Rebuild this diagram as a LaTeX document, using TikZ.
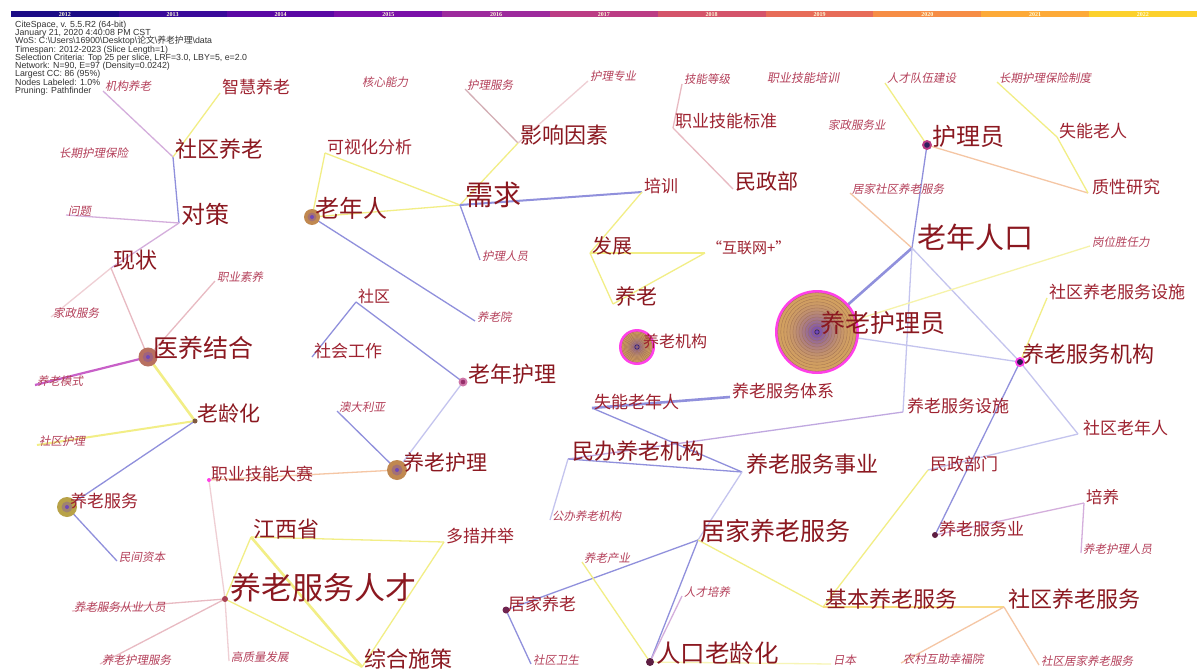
\documentclass[tikz,border=0pt]{standalone}
\usepackage{fontspec}
\setmainfont{Liberation Sans}
\newfontfamily\cjk{Noto Sans CJK SC}
\newfontfamily\cjkslant{Noto Sans CJK SC}[FakeSlant=0.18]
\newfontfamily\yrfont{Liberation Serif}
\usepackage{xcolor}
\usepackage{tikz}
\usetikzlibrary{positioning}

% time slice colours
\definecolor{yc0}{HTML}{1C0C86}
\definecolor{yc1}{HTML}{3A0A9A}
\definecolor{yc2}{HTML}{5A08A4}
\definecolor{yc3}{HTML}{7A10A8}
\definecolor{yc4}{HTML}{9C2A9C}
\definecolor{yc5}{HTML}{BB3C84}
\definecolor{yc6}{HTML}{D4546A}
\definecolor{yc7}{HTML}{E76C58}
\definecolor{yc8}{HTML}{F68D45}
\definecolor{yc9}{HTML}{FDAA38}
\definecolor{yc10}{HTML}{FCD12C}
% labels
\definecolor{kwdark}{HTML}{8B1820}
\definecolor{kwmid}{HTML}{9E2230}
\definecolor{kwlight}{HTML}{B4405A}
% links
\definecolor{lnblue}{HTML}{9090DC}
\definecolor{lnlblue}{HTML}{C4C4EE}
\definecolor{lnyellow}{HTML}{F2EE86}
\definecolor{lnpink}{HTML}{E8BAC2}
\definecolor{lnorange}{HTML}{F5C6A4}
\definecolor{lnmag}{HTML}{C860C8}
\definecolor{lnlilac}{HTML}{D4AEDC}
\definecolor{lnviolet}{HTML}{C0A8E0}
\definecolor{lngold}{HTML}{F8DC80}
% rings
\definecolor{ringtan}{HTML}{D2A060}
\definecolor{ringpurple}{HTML}{7048B8}
\definecolor{ringpink}{HTML}{FF40E8}
\definecolor{ringline}{HTML}{A07050}
\definecolor{ringrose}{HTML}{B87060}
\definecolor{ringbrown}{HTML}{C08850}
\definecolor{ringolive}{HTML}{B8A248}
\definecolor{navy}{HTML}{302060}

\tikzset{
  kw/.style={anchor=base west, inner sep=0pt, outer sep=0pt, xshift=2pt},
  kwS/.style={kw, text=kwlight, font=\cjkslant\fontsize{11.5}{12}\selectfont},
  kwM/.style={kw, text=kwmid, font=\cjk\fontsize{17}{18}\selectfont},
  kwL/.style={kw, text=kwdark, font=\cjk\fontsize{22}{24}\selectfont},
  kwXL/.style={kw, text=kwdark, font=\cjk\fontsize{25}{27}\selectfont},
  kwXXL/.style={kw, text=kwdark, font=\cjk\fontsize{29}{31}\selectfont},
  infotxt/.style={anchor=base west, inner sep=0pt, text=black!80, font=\fontsize{8.8}{9}\selectfont},
  yeartxt/.style={inner sep=0pt, text=white!85!yellow, font=\yrfont\bfseries\fontsize{6}{6}\selectfont},
  link/.style={line width=1.3pt},
  thick link/.style={line width=2.6pt},
}

\begin{document}
\begin{tikzpicture}[x=1pt, y=-1pt]
\fill[white] (0,0) rectangle (1197,669);
\useasboundingbox (0,0) rectangle (1197,669);

% timeline bar
\foreach \yr [count=\i from 0] in {2012,...,2022} {
  \fill[yc\i] ({11+107.8*\i},11) rectangle ({11+107.8*(\i+1)},17.5);
  \node[yeartxt] (yr\yr) at ({11+107.8*(\i+0.5)},14.3) {\yr};
}

% run summary
\node[infotxt] (info1) at (15,27.4) {CiteSpace, v. 5.5.R2 (64-bit)};
\node[infotxt] (info2) at (15,35.6) {January 21, 2020 4:40:08 PM CST};
\node[infotxt] (info3) at (15,43.9) {WoS: C:\textbackslash Users\textbackslash 16900\textbackslash Desktop\textbackslash{\cjk 论文}\textbackslash{\cjk 养老护理}\textbackslash data};
\node[infotxt] (info4) at (15,52.1) {Timespan: 2012-2023 (Slice Length=1)};
\node[infotxt] (info5) at (15,60.4) {Selection Criteria: Top 25 per slice, LRF=3.0, LBY=5, e=2.0};
\node[infotxt] (info6) at (15,68.6) {Network: N=90, E=97 (Density=0.0242)};
\node[infotxt] (info7) at (15,76.9) {Largest CC: 86 (95\%)};
\node[infotxt] (info8) at (15,85.1) {Nodes Labeled: 1.0\%};
\node[infotxt] (info9) at (15,93.4) {Pruning: Pathfinder};

% keyword positions
\coordinate (jgyl) at (103,91);
\coordinate (zhyl) at (220,93);
\coordinate (sqyl) at (173,157);
\coordinate (duice) at (179,223);
\coordinate (cqhlbx) at (57,157);
\coordinate (wenti) at (66,215);
\coordinate (xianzhuang) at (111,268);
\coordinate (jzfw) at (51,317);
\coordinate (zysy) at (215,281);
\coordinate (yyjh) at (148,357);
\coordinate (ylms) at (35,385);
\coordinate (llh) at (195,421);
\coordinate (sqhl) at (37,445);
\coordinate (ylfw) at (67,507);
\coordinate (mjzb) at (117,561);
\coordinate (lnr) at (312,217);
\coordinate (kshfx) at (325,153);
\coordinate (hxnl) at (360,87);
\coordinate (hlfw) at (465,89);
\coordinate (hlzy) at (588,81);
\coordinate (yxys) at (518,143);
\coordinate (xuqiu) at (460,205);
\coordinate (hlry) at (480,260);
\coordinate (peixun) at (642,192);
\coordinate (fazhan) at (590,253);
\coordinate (hlw) at (705,253);
\coordinate (yanglao) at (613,304);
\coordinate (yly) at (475,321);
\coordinate (yljg) at (637,347);
\coordinate (ylhly) at (817,332);
\coordinate (lnrk) at (912,248);
\coordinate (hly) at (927,145);
\coordinate (rcdwjs) at (885,83);
\coordinate (cqhlbxzd) at (997,82);
\coordinate (snlr) at (1057,137);
\coordinate (zxyj) at (1088,193);
\coordinate (jzfwy) at (826,129);
\coordinate (jjsqylfw) at (850,193);
\coordinate (gwsrl) at (1090,246);
\coordinate (jndj) at (682,84);
\coordinate (zyjnbz) at (673,128);
\coordinate (mzb) at (733,189);
\coordinate (zyjnpx) at (765,82);
\coordinate (sqylfwss) at (1047,298);
\coordinate (ylfwjg) at (1020,362);
\coordinate (sqlnr) at (1078,434);
\coordinate (mzbm) at (928,470);
\coordinate (ylfwss) at (903,412);
\coordinate (shequ) at (356,302);
\coordinate (shgz) at (312,357);
\coordinate (lnhl) at (463,382);
\coordinate (adly) at (337,411);
\coordinate (ylhl) at (397,470);
\coordinate (zyjnds) at (209,480);
\coordinate (snlnr) at (592,408);
\coordinate (ylfwtx) at (730,397);
\coordinate (mbyljg) at (568,459);
\coordinate (gbyljg) at (550,520);
\coordinate (ylfwsy) at (742,472);
\coordinate (jxs) at (251,537);
\coordinate (dcbj) at (444,542);
\coordinate (ylfwrc) at (225,599);
\coordinate (zhsc) at (362,667);
\coordinate (ylfwcyry) at (72,611);
\coordinate (ylhlfw) at (100,664);
\coordinate (gzlfz) at (229,661);
\coordinate (jjyl) at (506,610);
\coordinate (sqws) at (531,664);
\coordinate (jjylfw) at (698,540);
\coordinate (ylcy) at (582,562);
\coordinate (rcpy) at (682,596);
\coordinate (rklh) at (650,662);
\coordinate (riben) at (831,664);
\coordinate (jbylfw) at (823,607);
\coordinate (sqylfw) at (1004,607);
\coordinate (ncfzxfy) at (901,663);
\coordinate (sqjjylfw) at (1039,665);
\coordinate (ylfwy) at (935,535);
\coordinate (peiyang) at (1084,503);
\coordinate (ylhlry) at (1081,553);

% links
\draw[link, lnlilac] (jgyl) -- (sqyl);
\draw[link, lnyellow] (zhyl) -- (sqyl);
\draw[link, lnblue] (sqyl) -- (duice);
\draw[link, lnlilac] (wenti) -- (duice);
\draw[link, lnlilac] (duice) -- (xianzhuang);
\draw[link, lnpink!70] (xianzhuang) -- (jzfw);
\draw[link, lnpink] (xianzhuang) -- (yyjh);
\draw[link, lnpink] (zysy) -- (yyjh);
\draw[line width=2.2pt, lnmag] (ylms) -- (yyjh);
\draw[thick link, lnyellow] (yyjh) -- (llh);
\draw[line width=2pt, lnyellow] (llh) -- (sqhl);
\draw[link, lnblue] (llh) -- (ylfw);
\draw[link, lnblue] (ylfw) -- (mjzb);
\draw[link, lnyellow] (lnr) -- (kshfx);
\draw[link, lnyellow] (kshfx) -- (xuqiu);
\draw[link, lnyellow] (lnr) -- (xuqiu);
\draw[link, lnblue] (lnr) -- (yly);
\draw[link, lnpink!80!gray] (hlfw) -- (yxys);
\draw[link, lnpink!70] (hlzy) -- (yxys);
\draw[link, lnyellow] (yxys) -- (xuqiu);
\draw[line width=2pt, lnblue] (xuqiu) -- (peixun);
\draw[link, lnblue] (xuqiu) -- (hlry);
\draw[link, lnyellow] (peixun) -- (fazhan);
\draw[link, lnyellow] (fazhan) -- (hlw);
\draw[link, lnyellow] (fazhan) -- (yanglao);
\draw[link, lnyellow] (hlw) -- (yanglao);
\draw[link, lnpink] (jndj) -- (zyjnbz);
\draw[link, lnpink] (zyjnbz) -- (mzb);
\draw[link, lnyellow] (rcdwjs) -- (hly);
\draw[link, lnorange] (hly) -- (zxyj);
\draw[link, lnyellow] (cqhlbxzd) -- (snlr);
\draw[link, lnyellow] (snlr) -- (zxyj);
\draw[link, lnblue] (hly) -- (lnrk);
\draw[link, lnorange] (jjsqylfw) -- (lnrk);
\draw[thick link, lnblue] (lnrk) -- (ylhly);
\draw[link, lnlblue] (lnrk) -- (ylfwjg);
\draw[link, lnlblue] (lnrk) -- (ylfwss);
\draw[link, lnlblue] (ylhly) -- (ylfwjg);
\draw[link, lnyellow!70] (ylhly) -- (gwsrl);
\draw[link, lnyellow] (sqylfwss) -- (ylfwjg);
\draw[link, lnlblue] (ylfwjg) -- (sqlnr);
\draw[link, lnblue] (ylfwjg) -- (ylfwy);
\draw[link, lnlblue] (sqlnr) -- (mzbm);
\draw[link, lnyellow] (mzbm) -- (jbylfw);
\draw[link, lnviolet] (ylfwss) -- (mbyljg);
\draw[link, lnblue] (shequ) -- (shgz);
\draw[link, lnblue] (shequ) -- (lnhl);
\draw[link, lnlblue] (lnhl) -- (ylhl);
\draw[link, lnblue] (adly) -- (ylhl);
\draw[link, lnorange] (zyjnds) -- (ylhl);
\draw[link, lnpink!70] (zyjnds) -- (ylfwrc);
\draw[link, lnpink!70] (ylfwrc) -- (gzlfz);
\draw[link, lnpink] (ylfwrc) -- (ylfwcyry);
\draw[link, lnpink] (ylfwrc) -- (ylhlfw);
\draw[link, lnyellow] (ylfwrc) -- (jxs);
\draw[link, lnyellow] (ylfwrc) -- (zhsc);
\draw[link, lnyellow] (jxs) -- (dcbj);
\draw[link, lnyellow] (dcbj) -- (zhsc);
\draw[thick link, lnyellow] (jxs) -- (zhsc);
\draw[thick link, lnblue] (snlnr) -- (ylfwtx);
\draw[link, lnblue] (snlnr) -- (ylfwsy);
\draw[link, lnblue] (mbyljg) -- (ylfwsy);
\draw[link, lnlblue] (mbyljg) -- (gbyljg);
\draw[link, lnlblue] (ylfwsy) -- (jjylfw);
\draw[link, lnblue] (jjylfw) -- (jjyl);
\draw[link, lnblue] (jjyl) -- (sqws);
\draw[link, lnblue] (jjylfw) -- (rklh);
\draw[link, lnyellow] (jjylfw) -- (jbylfw);
\draw[link, lnyellow] (ylcy) -- (rklh);
\draw[link, lnlilac] (rcpy) -- (rklh);
\draw[link, lnyellow!60] (rklh) -- (riben);
\draw[thick link, lngold] (jbylfw) -- (sqylfw);
\draw[link, lnorange] (sqylfw) -- (ncfzxfy);
\draw[link, lnorange] (sqylfw) -- (sqjjylfw);
\draw[link, lnlilac] (ylfwy) -- (peiyang);
\draw[link, lnlilac] (peiyang) -- (ylhlry);

% tree rings of the most cited keywords
\foreach \cc/\R in {ylhly/42, yljg/18} {
  \fill[ringpink] (\cc) circle[radius=\R pt];
  \foreach \k in {0,...,12} {
    \pgfmathtruncatemacro\mixp{\k*\k*100/144}
    \pgfmathsetmacro\rk{(\R-2.8)*(1-\k/13)}
    \filldraw[fill=ringpurple!\mixp!ringtan, draw=ringline, line width=0.3pt] (\cc) circle[radius=\rk pt];
  }
  \draw[navy, line width=0.6pt] (\cc) circle[radius=2.2pt];
}
\foreach \cc/\R/\col in {yyjh/9.5/ringrose, ylhl/10/ringbrown, lnr/8/ringbrown, ylfw/10/ringolive} {
  \fill[\col] (\cc) circle[radius=\R pt];
  \fill[\col!65!ringpurple] (\cc) circle[radius={0.55*\R pt}];
  \fill[ringpurple] (\cc) circle[radius=2pt];
}
\fill[yc5] (hly) circle[radius=5pt];
\fill[navy] (hly) circle[radius=2.8pt];
\fill[ringpink] (ylfwjg) circle[radius=5pt];
\fill[navy!80!black] (ylfwjg) circle[radius=3pt];
\fill[yc5!70!white] (lnhl) circle[radius=4.5pt];
\fill[yc5!80!black] (lnhl) circle[radius=2.3pt];
\fill[ringpink] (zyjnds) circle[radius=2pt];
\fill[ringline!80!black] (llh) circle[radius=2.5pt];
\fill[yc6!80!black] (ylfwrc) circle[radius=3pt];
\fill[yc5!60!black] (jjyl) circle[radius=3.5pt];
\fill[yc5!50!black] (rklh) circle[radius=4pt];
\fill[yc5!50!black] (ylfwy) circle[radius=3pt];

% keyword labels
\node[kwS] (t-jgyl) at (jgyl) {机构养老};
\node[kwM] (t-zhyl) at (zhyl) {智慧养老};
\node[kwL] (t-sqyl) at (sqyl) {社区养老};
\node[kwXL, font=\cjk\fontsize{24}{26}\selectfont] (t-duice) at (duice) {对策};
\node[kwS] (t-cqhlbx) at (cqhlbx) {长期护理保险};
\node[kwS] (t-wenti) at (wenti) {问题};
\node[kwL] (t-xianzhuang) at (xianzhuang) {现状};
\node[kwS] (t-jzfw) at (jzfw) {家政服务};
\node[kwS] (t-zysy) at (zysy) {职业素养};
\node[kwXL, xshift=3pt] (t-yyjh) at (yyjh) {医养结合};
\node[kwS] (t-ylms) at (ylms) {养老模式};
\node[kwL, font=\cjk\fontsize{21}{23}\selectfont] (t-llh) at (llh) {老龄化};
\node[kwS] (t-sqhl) at (sqhl) {社区护理};
\node[kwM, xshift=1pt] (t-ylfw) at (ylfw) {养老服务};
\node[kwS] (t-mjzb) at (mjzb) {民间资本};
\node[kwXL, font=\cjk\fontsize{24}{26}\selectfont, xshift=1pt] (t-lnr) at (lnr) {老年人};
\node[kwM] (t-kshfx) at (kshfx) {可视化分析};
\node[kwS] (t-hxnl) at (hxnl) {核心能力};
\node[kwS] (t-hlfw) at (hlfw) {护理服务};
\node[kwS] (t-hlzy) at (hlzy) {护理专业};
\node[kwL] (t-yxys) at (yxys) {影响因素};
\node[kwXXL, font=\cjk\fontsize{28}{30}\selectfont, xshift=3pt] (t-xuqiu) at (xuqiu) {需求};
\node[kwS] (t-hlry) at (hlry) {护理人员};
\node[kwM] (t-peixun) at (peixun) {培训};
\node[kwL, font=\cjk\fontsize{20}{22}\selectfont] (t-fazhan) at (fazhan) {发展};
\node[kwM, font=\cjk\fontsize{15}{17}\selectfont] (t-hlw) at (hlw) {“互联网+”};
\node[kwL, font=\cjk\fontsize{21}{23}\selectfont] (t-yanglao) at (yanglao) {养老};
\node[kwS] (t-yly) at (yly) {养老院};
\node[kwM, font=\cjk\fontsize{16}{18}\selectfont, xshift=4pt] (t-yljg) at (yljg) {养老机构};
\node[kwXL, xshift=1pt] (t-ylhly) at (ylhly) {养老护理员};
\node[kwXXL, xshift=3pt] (t-lnrk) at (lnrk) {老年人口};
\node[kwXL, font=\cjk\fontsize{24}{26}\selectfont, xshift=3pt] (t-hly) at (hly) {护理员};
\node[kwS] (t-rcdwjs) at (rcdwjs) {人才队伍建设};
\node[kwS] (t-cqhlbxzd) at (cqhlbxzd) {长期护理保险制度};
\node[kwM] (t-snlr) at (snlr) {失能老人};
\node[kwM, xshift=2pt] (t-zxyj) at (zxyj) {质性研究};
\node[kwS] (t-jzfwy) at (jzfwy) {家政服务业};
\node[kwS] (t-jjsqylfw) at (jjsqylfw) {居家社区养老服务};
\node[kwS] (t-gwsrl) at (gwsrl) {岗位胜任力};
\node[kwS] (t-jndj) at (jndj) {技能等级};
\node[kwM] (t-zyjnbz) at (zyjnbz) {职业技能标准};
\node[kwL, font=\cjk\fontsize{21}{23}\selectfont] (t-mzb) at (mzb) {民政部};
\node[kwS, font=\cjkslant\fontsize{12}{13}\selectfont] (t-zyjnpx) at (zyjnpx) {职业技能培训};
\node[kwM] (t-sqylfwss) at (sqylfwss) {社区养老服务设施};
\node[kwL] (t-ylfwjg) at (ylfwjg) {养老服务机构};
\node[kwM, xshift=3pt] (t-sqlnr) at (sqlnr) {社区老年人};
\node[kwM] (t-mzbm) at (mzbm) {民政部门};
\node[kwM, xshift=2pt] (t-ylfwss) at (ylfwss) {养老服务设施};
\node[kwM, font=\cjk\fontsize{16}{18}\selectfont] (t-shequ) at (shequ) {社区};
\node[kwM] (t-shgz) at (shgz) {社会工作};
\node[kwL, xshift=3pt] (t-lnhl) at (lnhl) {老年护理};
\node[kwS] (t-adly) at (adly) {澳大利亚};
\node[kwL, font=\cjk\fontsize{21}{23}\selectfont, xshift=4pt] (t-ylhl) at (ylhl) {养老护理};
\node[kwM] (t-zyjnds) at (zyjnds) {职业技能大赛};
\node[kwM] (t-snlnr) at (snlnr) {失能老年人};
\node[kwM] (t-ylfwtx) at (ylfwtx) {养老服务体系};
\node[kwL, xshift=2pt] (t-mbyljg) at (mbyljg) {民办养老机构};
\node[kwS] (t-gbyljg) at (gbyljg) {公办养老机构};
\node[kwL, xshift=2pt] (t-ylfwsy) at (ylfwsy) {养老服务事业};
\node[kwL] (t-jxs) at (jxs) {江西省};
\node[kwM] (t-dcbj) at (dcbj) {多措并举};
\node[kwXXL, font=\cjk\fontsize{31}{33}\selectfont, xshift=3pt] (t-ylfwrc) at (ylfwrc) {养老服务人才};
\node[kwL] (t-zhsc) at (zhsc) {综合施策};
\node[kwS] (t-ylfwcyry) at (ylfwcyry) {养老服务从业人员};
\node[kwS] (t-ylhlfw) at (ylhlfw) {养老护理服务};
\node[kwS] (t-gzlfz) at (gzlfz) {高质量发展};
\node[kwM] (t-jjyl) at (jjyl) {居家养老};
\node[kwS] (t-sqws) at (sqws) {社区卫生};
\node[kwXL] (t-jjylfw) at (jjylfw) {居家养老服务};
\node[kwS] (t-ylcy) at (ylcy) {养老产业};
\node[kwS] (t-rcpy) at (rcpy) {人才培养};
\node[kwXL, font=\cjk\fontsize{24.5}{26}\selectfont, xshift=4pt] (t-rklh) at (rklh) {人口老龄化};
\node[kwS] (t-riben) at (riben) {日本};
\node[kwL] (t-jbylfw) at (jbylfw) {基本养老服务};
\node[kwL, xshift=2pt] (t-sqylfw) at (sqylfw) {社区养老服务};
\node[kwS] (t-ncfzxfy) at (ncfzxfy) {农村互助幸福院};
\node[kwS] (t-sqjjylfw) at (sqjjylfw) {社区居家养老服务};
\node[kwM, xshift=2pt] (t-ylfwy) at (ylfwy) {养老服务业};
\node[kwM, font=\cjk\fontsize{16.5}{18}\selectfont] (t-peiyang) at (peiyang) {培养};
\node[kwS] (t-ylhlry) at (ylhlry) {养老护理人员};
\end{tikzpicture}
\end{document}
